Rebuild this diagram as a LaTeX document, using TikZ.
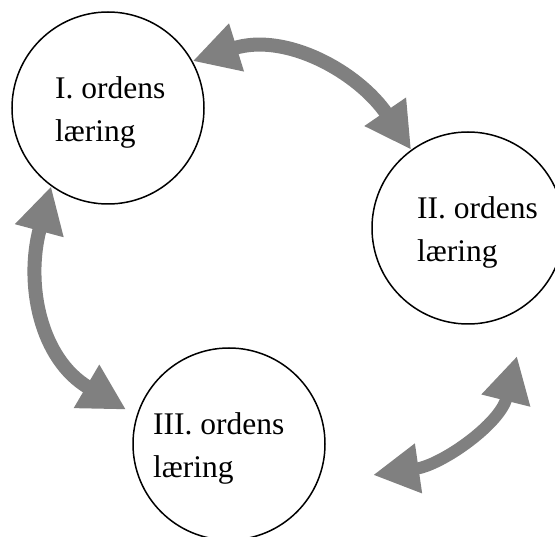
\documentclass[tikz,border=0pt]{standalone}
\usepackage{fontspec}
\setmainfont{Liberation Serif}
\usepackage{tikz}
\usetikzlibrary{arrows.meta}
\definecolor{pilgraa}{RGB}{128,128,128}

\begin{document}
\begin{tikzpicture}[x=1pt,y=-1pt]
			\tikzstyle{orden}=[circle,draw,line width=1.5pt,minimum size=192pt,inner sep=0pt]
			\tikzstyle{tekst}=[anchor=base west,align=left,inner sep=0pt,font=\fontsize{31.5}{43}\selectfont]
			\tikzstyle{pil}=[draw=pilgraa,line width=14pt,{Triangle[length=46pt,width=47pt]}-{Triangle[length=46pt,width=47pt]}]
			\useasboundingbox (0,0) rectangle (555,537);
			
			\node[orden] (c1) at (108,108) {};
			\node[orden] (c2) at (468,228) {};
			\node[orden] (c3) at (229,444) {};
			\node[tekst] (t1) at (55,142) {I. ordens\\læring};
			\node[tekst] (t2) at (417,262) {II. ordens\\læring};
			\node[tekst] (t3) at (153,478) {III. ordens\\læring};
			\coordinate (p1) at (373,475);
			\coordinate (p2) at (517,356);
			
			\draw[pil] (c1.29) .. controls (286,32) and (358,72) .. (c2.126);
			\draw[pil,shorten >=12pt] (c1.234) .. controls (25,284) and (40,359) .. (c3.163);
			\draw[pil,line width=12pt] (p1) .. controls (442,465) and (500,424) .. (p2);
\end{tikzpicture}
\end{document}
